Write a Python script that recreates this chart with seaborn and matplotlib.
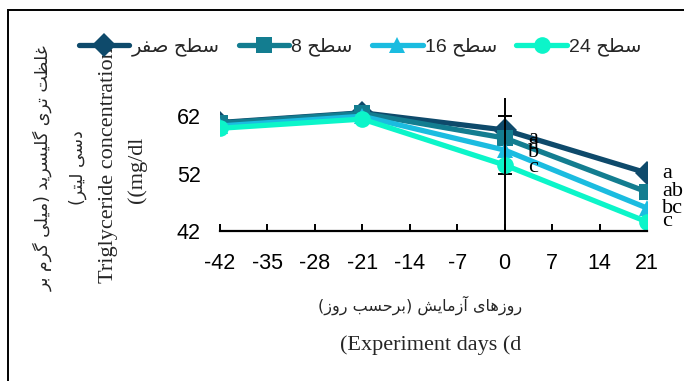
import numpy as np
import pandas as pd
import matplotlib
matplotlib.use("Agg")
import matplotlib.pyplot as plt
from matplotlib.patches import Rectangle
import seaborn as sns

# ---- data -------------------------------------------------------------
days = [-42, -21, 0, 21]
level_0 = [60.9, 62.6, 59.6, 52.1]
level_8 = [60.8, 62.5, 58.2, 48.8]
level_16 = [60.3, 62.0, 56.1, 46.0]
level_24 = [59.9, 61.5, 53.5, 43.6]
letters_day0 = ["a", "a", "b", "c"]
letters_day21 = ["a", "ab", "bc", "c"]
x_ticks = [-42, -35, -28, -21, -14, -7, 0, 7, 14, 21]
y_ticks = [42, 52, 62]

# ---- minimal Persian shaping (presentation forms, visual order) --------
FORMS = {
    'ا': ('\uFE8D', '\uFE8E', None, None),
    'آ': ('\uFE81', '\uFE82', None, None),
    'ب': ('\uFE8F', '\uFE90', '\uFE91', '\uFE92'),
    'ت': ('\uFE95', '\uFE96', '\uFE97', '\uFE98'),
    'ح': ('\uFEA1', '\uFEA2', '\uFEA3', '\uFEA4'),
    'د': ('\uFEA9', '\uFEAA', None, None),
    'ر': ('\uFEAD', '\uFEAE', None, None),
    'ز': ('\uFEAF', '\uFEB0', None, None),
    'س': ('\uFEB1', '\uFEB2', '\uFEB3', '\uFEB4'),
    'ش': ('\uFEB5', '\uFEB6', '\uFEB7', '\uFEB8'),
    'ص': ('\uFEB9', '\uFEBA', '\uFEBB', '\uFEBC'),
    'ط': ('\uFEC1', '\uFEC2', '\uFEC3', '\uFEC4'),
    'ظ': ('\uFEC5', '\uFEC6', '\uFEC7', '\uFEC8'),
    'غ': ('\uFECD', '\uFECE', '\uFECF', '\uFED0'),
    'ف': ('\uFED1', '\uFED2', '\uFED3', '\uFED4'),
    'ل': ('\uFEDD', '\uFEDE', '\uFEDF', '\uFEE0'),
    'م': ('\uFEE1', '\uFEE2', '\uFEE3', '\uFEE4'),
    'ه': ('\uFEE9', '\uFEEA', '\uFEEB', '\uFEEC'),
    'و': ('\uFEED', '\uFEEE', None, None),
    '\u06CC': ('\uFBFC', '\uFBFD', '\uFBFE', '\uFBFF'),
    'گ': ('\uFB92', '\uFB93', '\uFB94', '\uFB95'),
}


def fa(text):
    out = []
    n = len(text)
    for i, ch in enumerate(text):
        if ch not in FORMS:
            out.append(ch)
            continue
        iso, fin, ini, med = FORMS[ch]
        prev = text[i - 1] if i > 0 else ''
        nxt = text[i + 1] if i + 1 < n else ''
        join_prev = prev in FORMS and FORMS[prev][2] is not None
        join_next = ini is not None and nxt in FORMS
        if join_prev and join_next:
            out.append(med)
        elif join_prev:
            out.append(fin)
        elif join_next:
            out.append(ini)
        else:
            out.append(iso)
    vis = ''.join(reversed(out))
    return vis.translate(str.maketrans('()', ')('))


level_names = [fa("سطح صفر"), "8 " + fa("سطح"), "16 " + fa("سطح"), "24 " + fa("سطح")]
colors = ["#0E4A6B", "#137D90", "#1BBCE0", "#0CF5C9"]
marker_list = ["D", "s", "^", "o"]

series = [level_0, level_8, level_16, level_24]
df = pd.DataFrame({
    "day": days * 4,
    "value": [v for s in series for v in s],
    "level": [name for name in level_names for _ in days],
})

# ---- figure -------------------------------------------------------------
sns.set_theme(style="white")
num_font = ["Liberation Sans Narrow", "Liberation Sans", "DejaVu Sans"]
serif_font = ["Liberation Serif", "DejaVu Serif"]
fa_font = ["DejaVu Sans"]
plt.rcParams["font.family"] = num_font

W, H = 684, 381
fig = plt.figure(figsize=(W / 100, H / 100), dpi=100)
ax = fig.add_axes([220 / W, 1 - 231 / H, (647 - 220) / W, (231 - 99) / H])

sns.lineplot(
    data=df, x="day", y="value", hue="level", style="level",
    hue_order=level_names, style_order=level_names,
    palette=colors, markers=dict(zip(level_names, marker_list)), dashes=False,
    linewidth=3.8, markersize=12, markeredgewidth=0, ax=ax, legend=True,
)

ax.set_xlim(-42, 21)
ax.set_ylim(42, 65)
ax.set_xlabel("")
ax.set_ylabel("")
ax.set_facecolor("none")

# horizontal axis at the bottom, ticks pointing in
ax.spines["top"].set_visible(False)
ax.spines["right"].set_visible(False)
ax.spines["bottom"].set_color("black")
ax.spines["bottom"].set_linewidth(1.6)
ax.set_xticks(x_ticks)
ax.set_xticklabels([str(t) for t in x_ticks])
ax.tick_params(axis="x", direction="in", length=5, width=1.4, color="black",
               pad=16, labelsize=15.5, labelcolor="black", bottom=True)

# vertical axis crosses at day 0, labels stay on the left
ax.spines["left"].set_position(("data", 0))
ax.spines["left"].set_color("black")
ax.spines["left"].set_linewidth(1.4)
ax.set_yticks(y_ticks)
ax.tick_params(axis="y", direction="inout", length=10, width=1.4, color="black",
               labelleft=False, left=True)
sec = ax.secondary_yaxis(0.0)
sec.set_yticks(y_ticks)
sec.spines["left"].set_visible(False)
sec.tick_params(axis="y", length=0, pad=14, labelsize=15.5, labelcolor="black")

# significance letters beside the day-0 and day-21 points
for s, lab, dy in zip(series, letters_day0, [-6, -5, -2, -1.5]):
    ax.annotate(lab, xy=(days[2], s[2]), xytext=(17, dy), textcoords="offset points",
                fontsize=16, family=serif_font, va="center", ha="left", color="black")
for s, lab in zip(series, letters_day21):
    ax.annotate(lab, xy=(days[3], s[3]), xytext=(11, 0), textcoords="offset points",
                fontsize=16, family=serif_font, va="center", ha="left", color="black")

# legend across the top
handles, labels = ax.get_legend_handles_labels()
ax.get_legend().remove()
fig.legend(handles, labels, loc="center", bbox_to_anchor=(360 / W, 1 - 47 / H),
           ncol=4, frameon=False, handlelength=2.6, columnspacing=1.0,
           handletextpad=0.1, prop={"family": num_font + fa_font, "size": 14})

# axis titles
fig.text(43 / W, 1 - 168 / H, fa("غلظت تری گلیسرید (میلی گرم بر"), rotation=90,
         ha="center", va="center", fontsize=12.5, family=fa_font)
fig.text(78 / W, 1 - 168 / H, fa("دسی لیتر)"), rotation=90,
         ha="center", va="center", fontsize=12.5, family=fa_font)
fig.text(108 / W, 1 - 165 / H, "Triglyceride concentration", rotation=90,
         ha="center", va="center", fontsize=16, family=serif_font)
fig.text(137 / W, 1 - 170 / H, "((mg/dl", rotation=90,
         ha="center", va="center", fontsize=16, family=serif_font)
fig.text(420 / W, 1 - 305 / H, fa("روزهای آزمایش (برحسب روز)"),
         ha="center", va="center", fontsize=11.5, family=fa_font)
fig.text(431 / W, 1 - 345 / H, "(Experiment days (d",
         ha="center", va="center", fontsize=16, family=serif_font)

# outer frame
fig.patches.append(Rectangle((8 / W, -0.1), 1.2, 1 - 10 / H + 0.1, transform=fig.transFigure,
                             fill=False, edgecolor="black", linewidth=1.4))

fig.savefig("out.png", dpi=100)
